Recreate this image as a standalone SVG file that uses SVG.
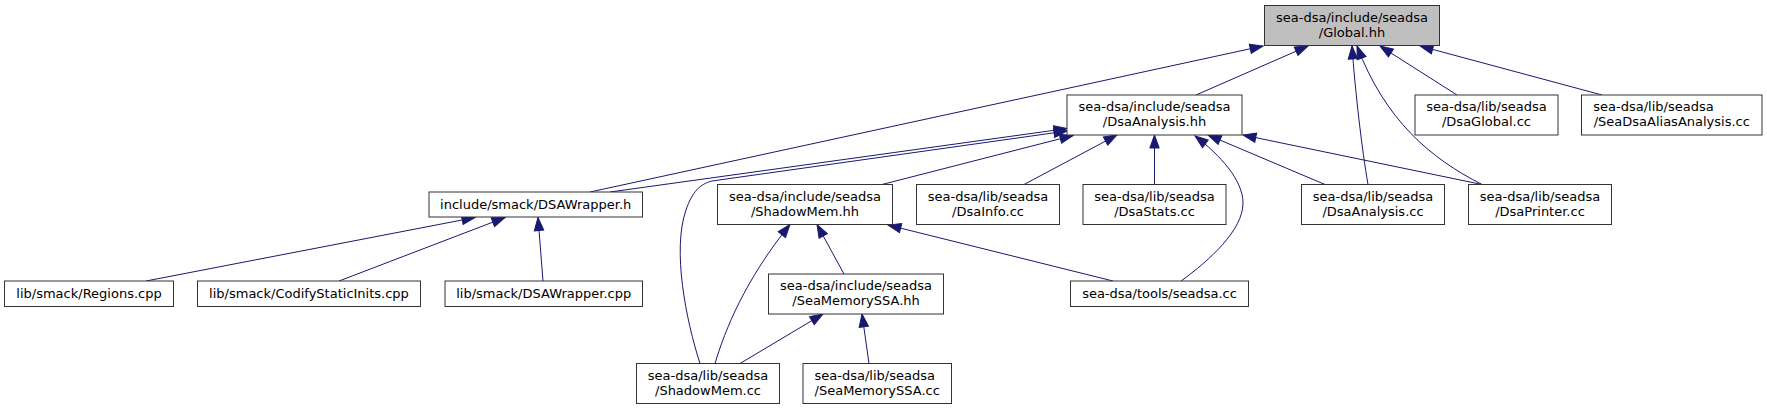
<svg xmlns="http://www.w3.org/2000/svg" width="1767" height="409" viewBox="0 0 1767 409">
<style>
.n rect{fill:#ffffff;stroke:#333333;stroke-width:1}
.root rect{fill:#bfbfbf}
text{font-family:"DejaVu Sans","Liberation Sans",sans-serif;font-size:13px;fill:#000000}
.m{text-anchor:middle}
.s{text-anchor:start}
.e path{fill:none;stroke:#191970;stroke-width:1;marker-end:url(#ah)}
</style>
<defs>
<marker id="ah" markerUnits="userSpaceOnUse" viewBox="0 0 13 10" refX="13" refY="5" markerWidth="13" markerHeight="10" orient="auto" overflow="visible">
<path d="M0,0.3 L13,5 L0,9.7 z" fill="#191970" stroke="#191970" stroke-width="1"/>
</marker>
</defs>
<rect width="1767" height="409" fill="#ffffff"/>
<g id="connectors" class="e">
<path d="M590,192 L1263,46"/>
<path d="M1196,95 L1308,46"/>
<path d="M1368,184.5 C1362,150 1355,90 1352,46"/>
<path d="M1482,184.5 C1430,158 1385,120 1357,46"/>
<path d="M1457,95 L1380,46"/>
<path d="M1602,95 L1420,46"/>
<path d="M610,192 L1067,128.5"/>
<path d="M700,363.5 C686,320 672,250 686,210 C692,192 700,184 712,181 L1067,131"/>
<path d="M882,184.5 L1073,135.5"/>
<path d="M1024,184.5 L1117,135"/>
<path d="M1154.5,184.5 L1154.5,135"/>
<path d="M1325,184.5 L1208,135"/>
<path d="M1482,184.5 L1243,135"/>
<path d="M1181,281 C1210,260 1243,230 1243,203 C1243,180 1220,155 1195,136"/>
<path d="M146,281 L475,217.5"/>
<path d="M339,281 L505,217.5"/>
<path d="M543,281 L538,217.5"/>
<path d="M715,363.5 C725,330 745,280 790,224.5"/>
<path d="M844,274 L817,224.5"/>
<path d="M1113,281 L888,225"/>
<path d="M740,363.5 L823,314"/>
<path d="M869,363.5 L862,314"/>
</g>
<g id="global_hh" class="n root"><rect x="1264.5" y="5.5" width="175" height="40"/><text class="m" x="1352" y="21.5">sea-dsa/include/seadsa</text><text class="m" x="1352" y="36.5">/Global.hh</text></g>
<g id="dsaanalysis_hh" class="n"><rect x="1067" y="95" width="175" height="40"/><text class="m" x="1154.5" y="111">sea-dsa/include/seadsa</text><text class="m" x="1154.5" y="126">/DsaAnalysis.hh</text></g>
<g id="dsawrapper_h" class="n"><rect x="429" y="192" width="213.5" height="25"/><text class="m" x="535.7" y="209">include/smack/DSAWrapper.h</text></g>
<g id="dsaglobal_cc" class="n"><rect x="1415" y="95" width="143" height="40"/><text class="m" x="1486.5" y="111">sea-dsa/lib/seadsa</text><text class="m" x="1486.5" y="126">/DsaGlobal.cc</text></g>
<g id="seadsaaliasanalysis_cc" class="n"><rect x="1581.5" y="95" width="180.5" height="40"/><text class="s" x="1593.3" y="111">sea-dsa/lib/seadsa</text><text class="m" x="1671.8" y="126">/SeaDsaAliasAnalysis.cc</text></g>
<g id="shadowmem_hh" class="n"><rect x="717.5" y="184.5" width="175" height="40"/><text class="m" x="805" y="200.5">sea-dsa/include/seadsa</text><text class="m" x="805" y="215.5">/ShadowMem.hh</text></g>
<g id="dsainfo_cc" class="n"><rect x="916.5" y="184.5" width="143" height="40"/><text class="m" x="988" y="200.5">sea-dsa/lib/seadsa</text><text class="m" x="988" y="215.5">/DsaInfo.cc</text></g>
<g id="dsastats_cc" class="n"><rect x="1083" y="184.5" width="143" height="40"/><text class="m" x="1154.5" y="200.5">sea-dsa/lib/seadsa</text><text class="m" x="1154.5" y="215.5">/DsaStats.cc</text></g>
<g id="dsaanalysis_cc" class="n"><rect x="1301.5" y="184.5" width="143" height="40"/><text class="m" x="1373" y="200.5">sea-dsa/lib/seadsa</text><text class="m" x="1373" y="215.5">/DsaAnalysis.cc</text></g>
<g id="dsaprinter_cc" class="n"><rect x="1468.5" y="184.5" width="143" height="40"/><text class="m" x="1540" y="200.5">sea-dsa/lib/seadsa</text><text class="m" x="1540" y="215.5">/DsaPrinter.cc</text></g>
<g id="regions_cpp" class="n"><rect x="4.5" y="281" width="169" height="25.5"/><text class="m" x="89" y="298">lib/smack/Regions.cpp</text></g>
<g id="codifystaticinits_cpp" class="n"><rect x="197.5" y="281" width="223" height="25.5"/><text class="m" x="309" y="298">lib/smack/CodifyStaticInits.cpp</text></g>
<g id="dsawrapper_cpp" class="n"><rect x="445" y="281" width="197.5" height="25.5"/><text class="m" x="543.7" y="298">lib/smack/DSAWrapper.cpp</text></g>
<g id="seamemoryssa_hh" class="n"><rect x="768.5" y="274" width="175" height="40"/><text class="m" x="856" y="290">sea-dsa/include/seadsa</text><text class="m" x="856" y="305">/SeaMemorySSA.hh</text></g>
<g id="seadsa_cc" class="n"><rect x="1070.5" y="281" width="178" height="25.5"/><text class="m" x="1159.5" y="298">sea-dsa/tools/seadsa.cc</text></g>
<g id="shadowmem_cc" class="n"><rect x="636.5" y="363.5" width="143" height="40"/><text class="m" x="708" y="379.5">sea-dsa/lib/seadsa</text><text class="m" x="708" y="394.5">/ShadowMem.cc</text></g>
<g id="seamemoryssa_cc" class="n"><rect x="803" y="363.5" width="148.5" height="40"/><text class="s" x="814.5" y="379.5">sea-dsa/lib/seadsa</text><text class="m" x="877.2" y="394.5">/SeaMemorySSA.cc</text></g>
</svg>
